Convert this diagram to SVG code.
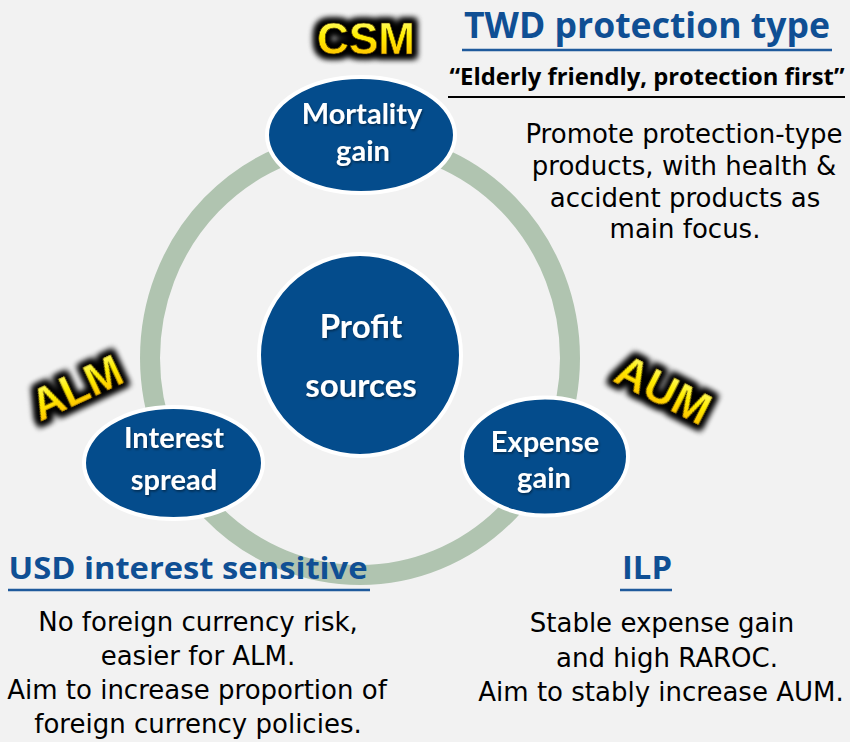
<svg xmlns="http://www.w3.org/2000/svg" width="850" height="742" viewBox="0 0 850 742">
<defs>
<linearGradient id="gold" x1="0" y1="0" x2="0" y2="1">
<stop offset="0" stop-color="#ffff8a"/>
<stop offset="0.45" stop-color="#ffee00"/>
<stop offset="1" stop-color="#ffb400"/>
</linearGradient>
<filter id="glow" x="-30%" y="-40%" width="160%" height="180%">
<feMorphology in="SourceAlpha" operator="dilate" radius="3.5" result="d"/>
<feGaussianBlur in="d" stdDeviation="3" result="b"/>
<feFlood flood-color="#000"/>
<feComposite in2="b" operator="in" result="g"/>
<feMerge><feMergeNode in="g"/><feMergeNode in="g"/><feMergeNode in="SourceGraphic"/></feMerge>
</filter>
<filter id="tsh" x="-10%" y="-20%" width="120%" height="140%">
<feDropShadow dx="1" dy="1.5" stdDeviation="1" flood-color="#000" flood-opacity="0.45"/>
</filter>
<style>
.node{fill:#044c8c;stroke:#ffffff;stroke-width:4}
.nt{font-family:Lato,"Open Sans",sans-serif;font-weight:bold;fill:#ffffff;text-anchor:middle}
.badge{font-family:"Liberation Sans",Arial,sans-serif;font-weight:bold;font-size:44px;fill:url(#gold);stroke:#3a2a00;stroke-width:0.6;text-anchor:middle;filter:url(#glow)}
.head{font-family:"Open Sans","Noto Sans",sans-serif;font-weight:bold;fill:#0f4f94;text-anchor:middle}
.body{font-family:"DejaVu Sans","Open Sans",sans-serif;font-size:26px;fill:#000000;text-anchor:middle}
.ul{stroke:#1f5a9c;stroke-width:2.5}
</style>
</defs>
<rect x="0" y="0" width="850" height="742" fill="#f2f2f2"/>

<g id="connectors">
<ellipse cx="360" cy="358" rx="210" ry="217" fill="none" stroke="#b0c4b0" stroke-width="20"/>
</g>

<g id="node-profit">
<circle class="node" cx="360" cy="355" r="101"/>
<text class="nt" x="361" y="338" font-size="33" filter="url(#tsh)">Profit</text>
<text class="nt" x="361" y="397" font-size="33" filter="url(#tsh)">sources</text>
</g>

<g id="node-mortality">
<ellipse class="node" cx="361" cy="135" rx="94" ry="58"/>
<text class="nt" x="362" y="124" font-size="29" filter="url(#tsh)">Mortality</text>
<text class="nt" x="363" y="161" font-size="29" filter="url(#tsh)">gain</text>
</g>

<g id="node-interest">
<ellipse class="node" cx="173.5" cy="463" rx="89.5" ry="56"/>
<text class="nt" x="174" y="448" font-size="29" filter="url(#tsh)">Interest</text>
<text class="nt" x="174" y="490" font-size="29" filter="url(#tsh)">spread</text>
</g>

<g id="node-expense">
<ellipse class="node" cx="545" cy="456.5" rx="83" ry="59"/>
<text class="nt" x="545" y="452" font-size="29" filter="url(#tsh)">Expense</text>
<text class="nt" x="544" y="488" font-size="29" filter="url(#tsh)">gain</text>
</g>

<g id="badge-csm">
<text class="badge" x="366" y="54">CSM</text>
</g>
<g id="badge-alm">
<text class="badge" transform="translate(77,388) rotate(-25)" x="0" y="15">ALM</text>
</g>
<g id="badge-aum">
<text class="badge" transform="translate(663,390) rotate(27)" x="0" y="15">AUM</text>
</g>

<g id="note-twd">
<text class="head" x="647" y="38" font-size="35" textLength="366" lengthAdjust="spacingAndGlyphs">TWD protection type</text>
<line class="ul" x1="462" y1="50" x2="832" y2="50"/>
<text x="647" y="85" font-family="'Open Sans','Noto Sans',sans-serif" font-weight="bold" font-size="24" fill="#000" text-anchor="middle" textLength="395" lengthAdjust="spacingAndGlyphs">“Elderly friendly, protection first”</text>
<line x1="448" y1="97" x2="845" y2="97" stroke="#000" stroke-width="2"/>
<text class="body" x="684" y="143">Promote protection-type</text>
<text class="body" x="684" y="175">products, with health &amp;</text>
<text class="body" x="685" y="207">accident products as</text>
<text class="body" x="685" y="238">main focus.</text>
</g>

<g id="note-usd">
<text class="head" x="188" y="579" font-size="30" textLength="359" lengthAdjust="spacingAndGlyphs">USD interest sensitive</text>
<line class="ul" x1="8" y1="590" x2="370" y2="590"/>
<text class="body" x="198" y="631">No foreign currency risk,</text>
<text class="body" x="198" y="665">easier for ALM.</text>
<text class="body" x="197" y="699">Aim to increase proportion of</text>
<text class="body" x="198" y="733">foreign currency policies.</text>
</g>

<g id="note-ilp">
<text class="head" x="647" y="579" font-size="33" textLength="50" lengthAdjust="spacingAndGlyphs">ILP</text>
<line class="ul" x1="620" y1="590" x2="672" y2="590"/>
<text class="body" x="662" y="632">Stable expense gain</text>
<text class="body" x="667" y="667">and high RAROC.</text>
<text class="body" x="661" y="701">Aim to stably increase AUM.</text>
</g>
</svg>
